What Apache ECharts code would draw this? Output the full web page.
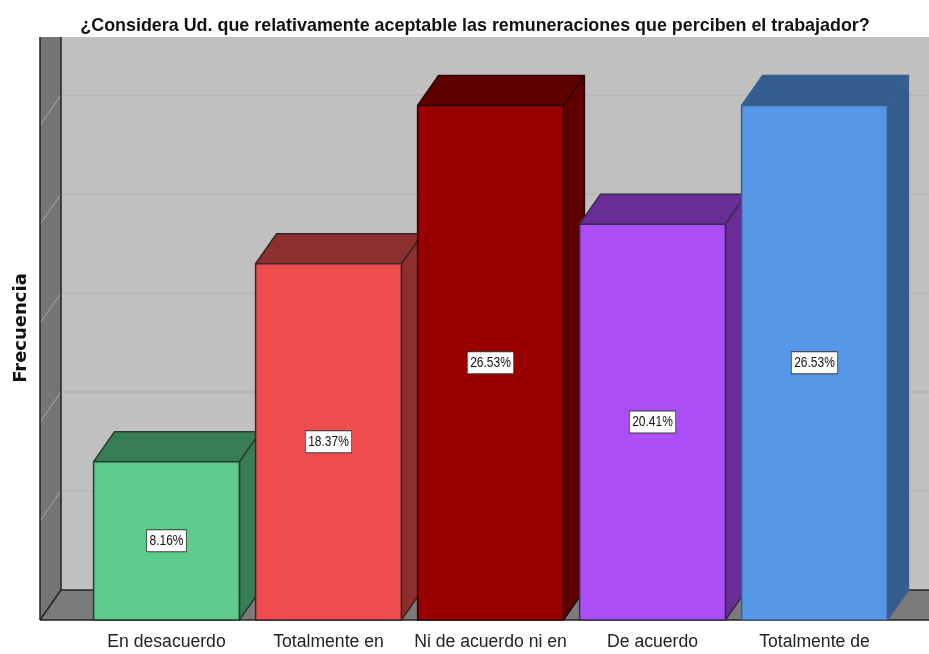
<!DOCTYPE html>
<html><head><meta charset="utf-8">
<style>html,body{margin:0;padding:0;background:#fff}#c{width:929px;height:654px}</style>
<script src="https://cdn.jsdelivr.net/npm/echarts@6/dist/echarts.min.js"></script>
</head><body><div id="c"></div>
<script>
const titleText = '¿Considera Ud. que relativamente aceptable las remuneraciones que perciben el trabajador?';
const yAxisName = 'Frecuencia';
const categories = ['En desacuerdo', 'Totalmente en', 'Ni de acuerdo ni en', 'De acuerdo', 'Totalmente de'];
const frequencies = [4, 9, 13, 10, 13];
const percentLabels = ['8.16%', '18.37%', '26.53%', '20.41%', '26.53%'];
const gridTicks = [2.5, 5, 7.5, 10, 12.5];
const axisMax = 13.97;
const frontColors = ['#5dcb8b', '#ef4d4d', '#990000', '#ab4ef5', '#5596e6'];
const shadeColors = ['#397d54', '#8e2f2f', '#5e0000', '#692d97', '#345c8f'];
const edgeColors = ['#263a30', '#3a2424', '#2a0505', '#3a2a50', '#3e5f8c'];
const DX = 21, DY = -30;

const chart = echarts.init(document.getElementById('c'), null, {renderer: 'canvas'});

function renderWalls(params, api) {
  const base = api.coord([0, 0]), top = api.coord([0, axisMax]);
  const L = 40, W = api.getWidth();
  const by = base[1], ty = top[1] + DY;
  const bx = L + DX, backY = by + DY;
  const children = [
    {type: 'rect', shape: {x: bx, y: ty, width: W - bx, height: backY - ty}, style: {fill: '#c0c0c0'}},
    {type: 'polygon', shape: {points: [[L, by], [bx, backY], [bx, ty], [L, ty]]}, style: {fill: '#757575'}},
    {type: 'polygon', shape: {points: [[L, by], [bx, backY], [W, backY], [W, by]]}, style: {fill: '#7b7b7b'}}
  ];
  gridTicks.forEach(t => {
    const y = api.coord([0, t])[1];
    children.push({type: 'line', shape: {x1: bx, y1: y + DY, x2: W, y2: y + DY}, style: {stroke: '#b7b7b7', lineWidth: 2}});
    children.push({type: 'line', shape: {x1: L, y1: y, x2: bx, y2: y + DY}, style: {stroke: '#a8a8a8', lineWidth: 1}});
  });
  const ln = '#222';
  children.push({type: 'line', shape: {x1: bx, y1: ty, x2: bx, y2: backY}, style: {stroke: ln, lineWidth: 1.5}});
  children.push({type: 'line', shape: {x1: L, y1: ty, x2: L, y2: by}, style: {stroke: ln, lineWidth: 1.5}});
  children.push({type: 'line', shape: {x1: bx, y1: backY, x2: W, y2: backY}, style: {stroke: ln, lineWidth: 1.5}});
  children.push({type: 'line', shape: {x1: L, y1: by, x2: bx, y2: backY}, style: {stroke: ln, lineWidth: 1.5}});
  children.push({type: 'line', shape: {x1: L, y1: by, x2: W, y2: by}, style: {stroke: ln, lineWidth: 1.5}});
  return {type: 'group', children};
}

function renderBar(params, api) {
  const i = params.dataIndex;
  const p = api.coord([api.value(0), api.value(1)]);
  const b = api.coord([api.value(0), 0]);
  const w = api.size([1, 0])[0] * 0.9;
  const x0 = p[0] - w / 2, x1 = p[0] + w / 2, yt = p[1], yb = b[1];
  const edge = {stroke: edgeColors[i], lineWidth: 1.5, lineJoin: 'round'};
  return {type: 'group', children: [
    {type: 'polygon', shape: {points: [[x1, yb], [x1 + DX, yb + DY], [x1 + DX, yt + DY], [x1, yt]]},
      style: Object.assign({fill: shadeColors[i]}, edge)},
    {type: 'polygon', shape: {points: [[x0, yt], [x0 + DX, yt + DY], [x1 + DX, yt + DY], [x1, yt]]},
      style: Object.assign({fill: shadeColors[i]}, edge)},
    {type: 'rect', shape: {x: x0, y: yt, width: w, height: yb - yt},
      style: Object.assign({fill: frontColors[i]}, edge)},
    {type: 'text', x: p[0], y: (yt + yb) / 2, scaleX: 0.8, z2: 10, style: {
      text: percentLabels[i], align: 'center', verticalAlign: 'middle',
      fontFamily: '"Liberation Sans",Arial,sans-serif', fontSize: 15, fill: '#111',
      backgroundColor: '#fff', borderColor: '#3a3a3a', borderWidth: 1, padding: [3, 3, 3, 3]
    }}
  ]};
}

chart.setOption({
  animation: false,
  backgroundColor: '#fff',
  title: {
    text: titleText, left: 470, top: 12, textAlign: 'center',
    textStyle: {fontFamily: '"Liberation Sans",Arial,sans-serif', fontSize: 17.9, fontWeight: 'bold', color: '#111'}
  },
  grid: {left: 85.5, right: 33.5, top: 67, bottom: 34, outerBoundsMode: 'none'},
  xAxis: {
    type: 'category', data: categories,
    axisLine: {show: false}, axisTick: {show: false},
    axisLabel: {interval: 0, margin: 13, fontFamily: '"Liberation Sans",Arial,sans-serif', fontSize: 17.6, color: '#222'}
  },
  yAxis: {
    type: 'value', min: 0, max: axisMax,
    axisLine: {show: false}, axisTick: {show: false}, axisLabel: {show: false}, splitLine: {show: false},
    name: yAxisName, nameLocation: 'middle', nameGap: 55, nameRotate: 90,
    nameTextStyle: {fontFamily: '"DejaVu Sans",Arial,sans-serif', fontSize: 18, fontWeight: 'bold', color: '#111', padding: [0, 0, 0, 31]}
  },
  series: [
    {type: 'custom', name: 'walls', silent: true, z: 1, renderItem: renderWalls, data: [[0, axisMax]], encode: {x: 0, y: 1}},
    {type: 'custom', name: yAxisName, z: 2, renderItem: renderBar,
      data: frequencies.map((v, i) => [i, v]), encode: {x: 0, y: 1}}
  ]
});
</script></body></html>
